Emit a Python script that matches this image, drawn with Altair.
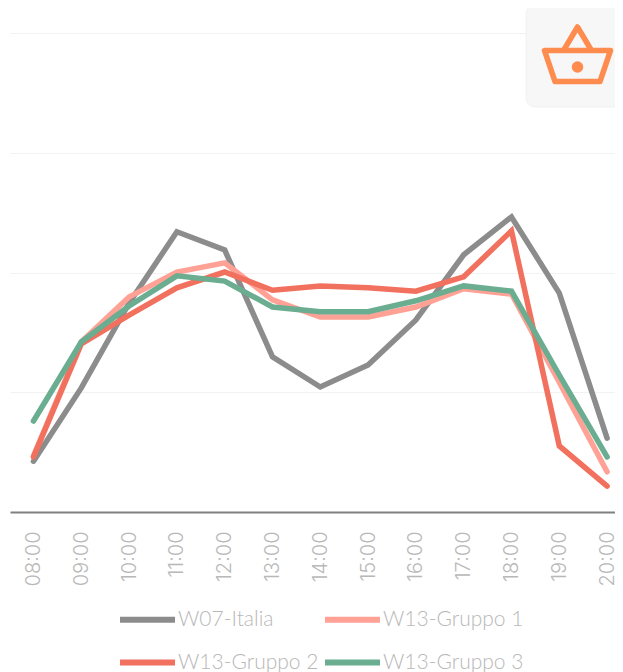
import altair as alt
import pandas as pd

hours = ["08:00","09:00","10:00","11:00","12:00","13:00","14:00","15:00","16:00","17:00","18:00","19:00","20:00"]
series = ["W07-Italia","W13-Gruppo 1","W13-Gruppo 2","W13-Gruppo 3"]
colors = ["#8c8c8c","#ffa194","#f2705e","#6aad90"]
italia = [10.6,25.9,43.6,58.5,54.7,32.4,26.1,30.7,40.1,53.7,61.6,45.7,15.4]
gruppo1 = [11.7,35.5,44.9,50.1,52.0,44.3,40.7,40.7,42.8,46.6,45.5,27.1,8.4]
gruppo2 = [11.5,35.1,41.1,46.8,50.1,46.3,47.2,46.8,46.1,49.1,58.7,13.8,5.4]
gruppo3 = [19.0,35.5,43.0,49.3,48.2,42.8,41.8,41.8,44.1,47.2,46.1,28.6,11.5]

rows = []
for name, vals in zip(series, [italia, gruppo1, gruppo2, gruppo3]):
    for h, v in zip(hours, vals):
        rows.append({"hour": h, "value": v, "series": name})
df = pd.DataFrame(rows)

FONT = "Lato"
GREY = "#b8b8b8"

lines = alt.Chart(df).mark_line(strokeWidth=5.5, strokeCap="round", strokeJoin="miter").encode(
    x=alt.X("hour:N", sort=hours, title=None,
            scale=alt.Scale(type="point", padding=0.3285, align=0.748),
            axis=alt.Axis(labelAngle=270, labelAlign="right", labelBaseline="middle",
                          labelColor=GREY, labelFont="Inter", labelFontSize=20, labelFontWeight=300,
                          labelPadding=19, labelOffset=0, ticks=False, grid=False,
                          domainColor="#808080", domainWidth=2, labelOverlap=False)),
    y=alt.Y("value:Q", title=None, scale=alt.Scale(domain=[0, 100], nice=False),
            axis=alt.Axis(values=[0, 25, 50, 75, 100], labels=False, ticks=False, domain=False,
                          grid=True, gridColor="#f2f2f2", gridWidth=1)),
    color=alt.Color("series:N", sort=series, title=None,
                    scale=alt.Scale(domain=series, range=colors),
                    legend=alt.Legend(orient="none", legendX=107, legendY=556, columns=2, direction="horizontal",
                                      symbolType="stroke", symbolSize=3025, symbolStrokeWidth=6,
                                      labelFont=FONT, labelFontSize=21, labelFontWeight=300,
                                      labelColor=GREY, labelOffset=0, rowPadding=-15,
                                      columnPadding=-6, labelLimit=200)),
)

one = pd.DataFrame({"k": [0]})
panel = alt.Chart(one).mark_rect(color="#f7f7f7", cornerRadius=9, stroke="#e6e6e6", strokeWidth=0.5).encode(
    x=alt.value(516), x2=alt.value(612), y=alt.value(-28), y2=alt.value(74))
basket = alt.Chart(one).mark_point(
    shape="M-.33,-.095L.33,-.095L.225,.215L-.225,.215ZM-.14,-.095L0,-.33L.14,-.095",
    size=40000, filled=False, stroke="#ff8c4f", strokeWidth=5.5, strokeJoin="round", opacity=1
).encode(x=alt.value(567.5), y=alt.value(27))
dot = alt.Chart(one).mark_point(shape="circle", size=133, filled=True, color="#ff8c4f", opacity=1).encode(
    x=alt.value(567.5), y=alt.value(34))

chart = alt.layer(lines, panel, basket, dot).properties(
    width=605, height=479,
    padding={"left": 2, "top": 25, "right": 0, "bottom": 160},
    autosize=alt.AutoSizeParams(type="none"),
).configure_view(stroke=None)

chart.save("out.html", embed_options={"renderer": "svg", "actions": False})
